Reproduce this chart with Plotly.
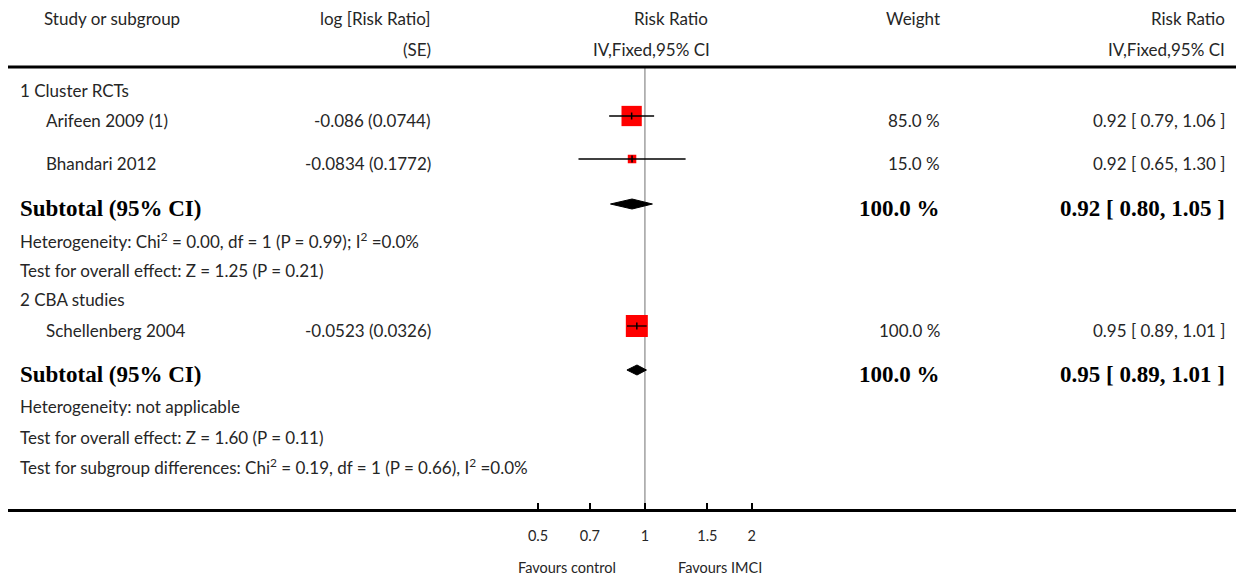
import numpy as np
import plotly.graph_objects as go

# ---------------- data ----------------
study_names = ["Arifeen 2009 (1)", "Bhandari 2012", "Schellenberg 2004"]
log_rr = [-0.086, -0.0834, -0.0523]
se = [0.0744, 0.1772, 0.0326]
weights = [85.0, 15.0, 100.0]

group_labels = ["1 Cluster RCTs", "2 CBA studies"]
subtotal_est = [0.92, 0.95]
subtotal_lo = [0.80, 0.89]
subtotal_hi = [1.05, 1.01]
subtotal_weight = [100.0, 100.0]
heterogeneity = [
    "Heterogeneity: Chi<sup>2</sup> = 0.00, df = 1 (P = 0.99); I<sup>2</sup> =0.0%",
    "Heterogeneity: not applicable",
]
overall_effect = [
    "Test for overall effect: Z = 1.25 (P = 0.21)",
    "Test for overall effect: Z = 1.60 (P = 0.11)",
]
subgroup_diff = "Test for subgroup differences: Chi<sup>2</sup> = 0.19, df = 1 (P = 0.66), I<sup>2</sup> =0.0%"
tick_vals = [0.5, 0.7, 1, 1.5, 2]
tick_text = ["0.5", "0.7", "1", "1.5", "2"]
favours_left = "Favours control"
favours_right = "Favours IMCI"

# ---------------- derived ----------------
lr = np.array(log_rr)
s = np.array(se)
est = np.exp(lr)
lo = np.exp(lr - 1.96 * s)
hi = np.exp(lr + 1.96 * s)
rr_text = [f"{e:.2f} [ {a:.2f}, {b:.2f} ]" for e, a, b in zip(est, lo, hi)]

# ---------------- layout constants (pixels) ----------------
W, H = 1236, 577
ML, MB = 8, 68
PLOT_BOTTOM = H - MB  # 509
study_rows = [116, 159, 326]
group_rows = [90, 299]
subtotal_rows = [204, 370]
het_rows = [240, 406]
overall_rows = [270, 437]
subgroup_row = 466
TXT_OFF = 4

def px(x):
    return (x - ML) / (W - ML)

SANS = "Lato"
SERIF = "Liberation Serif"
TXT = "#262626"
FS = 17

fig = go.Figure()

# reference line at RR = 1
fig.add_trace(go.Scatter(x=[1, 1], y=[67, PLOT_BOTTOM], mode="lines",
                         line=dict(color="#a0a0a0", width=1.5), hoverinfo="skip"))

# squares (size scaled by weight)
sizes = [22 * np.sqrt(w / 100.0) for w in weights]
fig.add_trace(go.Scatter(x=est, y=study_rows, mode="markers",
                         marker=dict(symbol="square", size=sizes, color="#ff0000", opacity=1,
                                     line=dict(width=0)), hoverinfo="skip"))
# CI lines
cx, cy = [], []
for a, b, y in zip(lo, hi, study_rows):
    cx += [a, b, None]
    cy += [y, y, None]
fig.add_trace(go.Scatter(x=cx, y=cy, mode="lines", line=dict(color="black", width=1.3),
                         hoverinfo="skip"))
fig.add_trace(go.Scatter(x=est, y=study_rows, mode="markers",
                         marker=dict(symbol="line-ns", size=5, opacity=1,
                                     line=dict(color="black", width=1.5)),
                         hoverinfo="skip"))

# diamonds
for e, a, b, y in zip(subtotal_est, subtotal_lo, subtotal_hi, subtotal_rows):
    fig.add_trace(go.Scatter(x=[a, e, b, e, a], y=[y, y - 5, y, y + 5, y], mode="lines",
                             fill="toself", fillcolor="black", line=dict(color="black", width=1),
                             hoverinfo="skip"))

ann = []
def add_text(x, y, text, anchor="left", bold=False, off=TXT_OFF):
    ann.append(dict(x=px(x), y=y + off, xref="paper", yref="y",
                    text=f"<b>{text}</b>" if bold else text, showarrow=False,
                    xanchor=anchor, yanchor="middle",
                    font=dict(family=SERIF if bold else SANS, size=23 if bold else FS,
                              color="black" if bold else TXT)))

# headers
add_text(42, 18, "Study or subgroup", off=0)
add_text(433, 18, "log [Risk Ratio]", "right", off=0)
add_text(433, 49, "(SE)", "right", off=0)
add_text(710, 18, "Risk Ratio", "right", off=0)
add_text(712, 49, "IV,Fixed,95% CI", "right", off=0)
add_text(942, 18, "Weight", "right", off=0)
add_text(1227, 18, "Risk Ratio", "right", off=0)
add_text(1227, 49, "IV,Fixed,95% CI", "right", off=0)

group_members = [[0, 1], [2]]
for g in range(2):
    add_text(18, group_rows[g], group_labels[g], off=0)
    for i in group_members[g]:
        add_text(44, study_rows[i], study_names[i])
        add_text(433, study_rows[i], f"{log_rr[i]} ({se[i]})", "right")
        add_text(942, study_rows[i], f"{weights[i]:.1f} %", "right")
        add_text(1227, study_rows[i], rr_text[i], "right")
    add_text(18, subtotal_rows[g], "Subtotal (95% CI)", bold=True)
    add_text(942, subtotal_rows[g], f"{subtotal_weight[g]:.1f} %", "right", bold=True)
    add_text(1227, subtotal_rows[g],
             f"{subtotal_est[g]:.2f} [ {subtotal_lo[g]:.2f}, {subtotal_hi[g]:.2f} ]", "right", bold=True)
    add_text(18, het_rows[g], heterogeneity[g], off=0)
    add_text(18, overall_rows[g], overall_effect[g], off=0)
add_text(18, subgroup_row, subgroup_diff, off=0)

# favours labels (below axis)
fav_y = -(567 - PLOT_BOTTOM) / PLOT_BOTTOM
ann.append(dict(x=px(618), y=fav_y, xref="paper", yref="paper", text=favours_left, showarrow=False,
                xanchor="right", yanchor="middle", font=dict(family=SANS, size=14.5, color=TXT)))
ann.append(dict(x=px(676), y=fav_y, xref="paper", yref="paper", text=favours_right, showarrow=False,
                xanchor="left", yanchor="middle", font=dict(family=SANS, size=14.5, color=TXT)))

# header rule
shapes = [dict(type="line", xref="paper", yref="y", x0=0, x1=1, y0=67, y1=67,
               line=dict(color="black", width=3))]

fig.update_layout(
    width=W, height=H,
    margin=dict(l=ML, r=0, t=0, b=MB),
    paper_bgcolor="white", plot_bgcolor="white",
    showlegend=False,
    annotations=ann, shapes=shapes,
    xaxis=dict(type="log", range=[-1.794, 1.665], showgrid=False, zeroline=False,
               showline=True, linecolor="black", linewidth=3,
               tickvals=tick_vals, ticktext=tick_text, ticks="inside", ticklen=6,
               tickwidth=2, tickcolor="black", ticklabelstandoff=12,
               tickfont=dict(family=SANS, size=14.5, color=TXT), fixedrange=True),
    yaxis=dict(range=[PLOT_BOTTOM, 0], visible=False, fixedrange=True),
)

fig.write_html("out.html", config={"displayModeBar": False},
               post_script="document.body.style.margin='0';document.body.style.overflow='hidden';")
